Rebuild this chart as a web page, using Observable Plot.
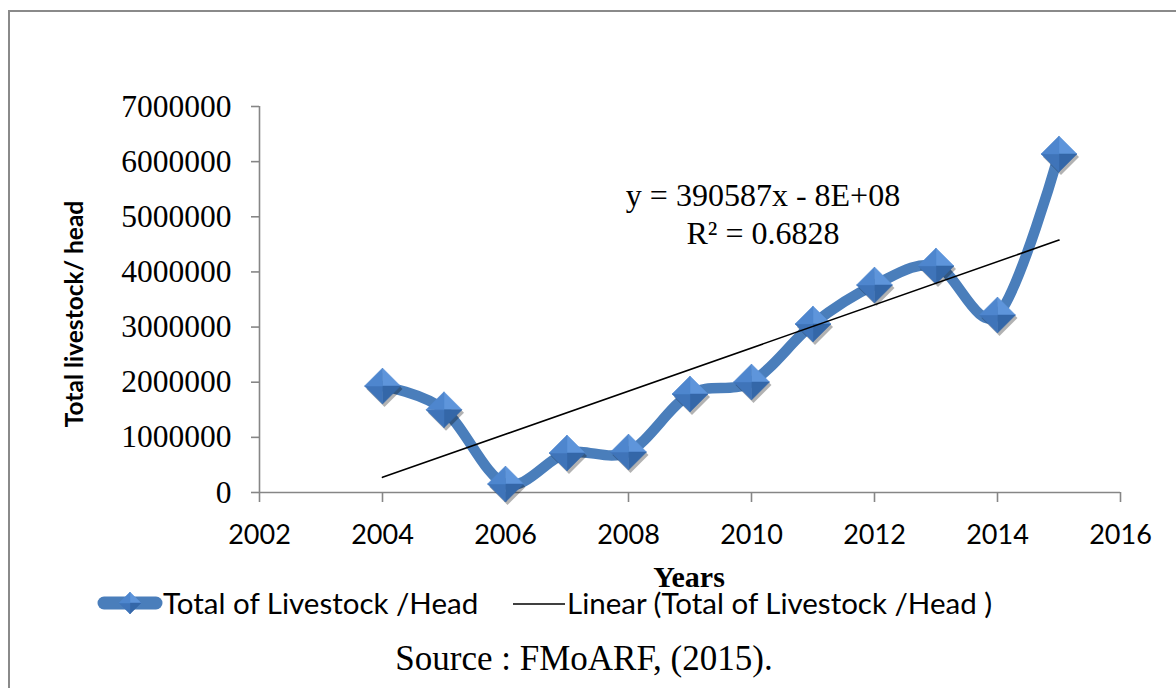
<!DOCTYPE html>
<html>
<head>
<meta charset="utf-8">
<script src="https://cdn.jsdelivr.net/npm/d3@7"></script>
<script src="https://cdn.jsdelivr.net/npm/@observablehq/plot@0.6"></script>
<style>
  html, body { margin: 0; padding: 0; background: #fff; }
  #wrap { position: relative; width: 1176px; height: 688px; overflow: hidden; background: #fff; }
  #border { position: absolute; left: 8px; top: 10px; width: 1200px; height: 720px; border-left: 2px solid #8a8a8a; border-top: 2px solid #8a8a8a; }
  #chart { position: absolute; left: 0; top: 0; }
  #overlay { position: absolute; left: 0; top: 0; pointer-events: none; }
  #chart g[aria-label^="y-axis"] { color: #868686; }
  #chart g[aria-label^="x-axis"] { color: #868686; }
  #chart g[aria-label^="y-axis"] text { font-family: "Liberation Serif", "Times New Roman", serif; font-size: 31.5px; fill: #000; }
  #chart g[aria-label^="x-axis"] text { font-family: Lato, "Open Sans", sans-serif; font-size: 27px; fill: #000; }
  #chart g[aria-label^="y-axis"] path, #chart g[aria-label^="x-axis"] path { stroke-width: 1.6; }
</style>
</head>
<body>
<div id="wrap">
  <div id="border"></div>
  <div id="chart"></div>
  <svg id="overlay" width="1176" height="688"></svg>
</div>
<script>
// ---- data ----
const years = [2004, 2005, 2006, 2007, 2008, 2009, 2010, 2011, 2012, 2013, 2014, 2015];
const livestock = [1930000, 1500000, 154000, 716000, 734000, 1786000, 2004000, 3056000, 3763000, 4108000, 3219000, 6139000];
const xTicks = [2002, 2004, 2006, 2008, 2010, 2012, 2014, 2016];
const yTicks = [0, 1000000, 2000000, 3000000, 4000000, 5000000, 6000000, 7000000];
const seriesName = "Total of Livestock /Head";
const trendName = "Linear (Total of Livestock /Head )";
const yTitle = "Total livestock/ head";
const xTitle = "Years";
const equation = ["y = 390587x - 8E+08", "R² = 0.6828"];
const sourceText = "Source : FMoARF, (2015).";

const data = years.map((y, i) => ({year: y, value: livestock[i]}));

// diamond facet symbols (pyramid look)
const facet = (i) => ({
  draw(ctx, size) {
    const d = Math.sqrt(size / Math.PI);
    const pts = [[0, -d], [d, 0], [0, d], [-d, 0]];
    const a = pts[i], b = pts[(i + 1) % 4];
    ctx.moveTo(0, 0); ctx.lineTo(a[0], a[1]); ctx.lineTo(b[0], b[1]); ctx.closePath();
  }
});
const fullDiamond = {
  draw(ctx, size) {
    const d = Math.sqrt(size / Math.PI);
    ctx.moveTo(0, -d); ctx.lineTo(d, 0); ctx.lineTo(0, d); ctx.lineTo(-d, 0); ctx.closePath();
  }
};
const facetColors = ["#5E95DB", "#3467A8", "#3F74B9", "#4E86CE"];
const R = 18;

const chart = Plot.plot({
  width: 1176,
  height: 688,
  marginLeft: 259,
  marginRight: 56,
  marginTop: 106,
  marginBottom: 196,
  style: {background: "transparent", overflow: "visible"},
  x: {domain: [2002, 2016], ticks: xTicks, tickFormat: "d", tickSize: 10, tickPadding: 22, label: null},
  y: {domain: [0, 7000000], ticks: yTicks, tickFormat: "d", tickSize: 8, tickPadding: 20, label: null},
  marks: [
    Plot.ruleX([2002], {stroke: "#868686", strokeWidth: 1.6}),
    Plot.ruleY([0], {stroke: "#868686", strokeWidth: 1.6}),
    Plot.line(data, {x: "year", y: "value", curve: "cardinal", stroke: "#000", strokeOpacity: 0.18, strokeWidth: 11, dx: 2, dy: 3, strokeLinecap: "round", strokeLinejoin: "round", ariaLabel: "lineshadow"}),
    Plot.line(data, {x: "year", y: "value", curve: "cardinal", stroke: "#4A7EBB", strokeWidth: 10.5, strokeLinecap: "round", strokeLinejoin: "round"}),
    Plot.dot(data, {x: "year", y: "value", symbol: fullDiamond, r: R, fill: "#000", fillOpacity: 0.3, dx: 2, dy: 3, ariaLabel: "dotshadow"}),
    ...facetColors.map((c, i) => Plot.dot(data, {x: "year", y: "value", symbol: facet(i), r: R, fill: c, stroke: c, strokeWidth: 0.5})),
    Plot.linearRegressionY(data, {x: "year", y: "value", ci: 0, stroke: "#000", strokeWidth: 1.6})
  ]
});
document.getElementById("chart").appendChild(chart);
d3.select(chart).selectAll('g[aria-label="dotshadow"], g[aria-label="lineshadow"]').style("filter", "blur(1.5px)");

// ---- overlay texts & legend ----
const ov = d3.select("#overlay");
const serif = '"Liberation Serif", "Times New Roman", serif';
const sans = 'Lato, "Open Sans", sans-serif';

ov.append("text").attr("transform", "translate(83,314) rotate(-90)")
  .attr("text-anchor", "middle").attr("font-family", sans).attr("font-weight", "bold")
  .attr("font-size", 24.5).text(yTitle);

ov.append("text").attr("x", 689).attr("y", 587).attr("text-anchor", "middle")
  .attr("font-family", serif).attr("font-weight", "bold").attr("font-size", 30).text(xTitle);

ov.selectAll("text.eq").data(equation).join("text").attr("class", "eq")
  .attr("x", 763).attr("y", (d, i) => 206 + i * 38).attr("text-anchor", "middle")
  .attr("font-family", serif).attr("font-size", 32).text(d => d);

// legend
ov.append("line").attr("x1", 104).attr("x2", 156).attr("y1", 603).attr("y2", 603)
  .attr("stroke", "#4A7EBB").attr("stroke-width", 13).attr("stroke-linecap", "round");
const lg = ov.append("g").attr("transform", "translate(130,603)");
const ld = 11, lpts = [[0, -ld], [ld, 0], [0, ld], [-ld, 0]];
facetColors.forEach((c, i) => {
  const a = lpts[i], b = lpts[(i + 1) % 4];
  lg.append("path").attr("d", `M0,0L${a[0]},${a[1]}L${b[0]},${b[1]}Z`).attr("fill", c).attr("stroke", c).attr("stroke-width", 0.5);
});
ov.append("text").attr("x", 163).attr("y", 614).attr("font-family", sans).attr("font-size", 29.5).text(seriesName);
ov.append("line").attr("x1", 513).attr("x2", 565).attr("y1", 604).attr("y2", 604).attr("stroke", "#000").attr("stroke-width", 1.6);
ov.append("text").attr("x", 567).attr("y", 614).attr("font-family", sans).attr("font-size", 29.5).text(trendName);

ov.append("text").attr("x", 584).attr("y", 670).attr("text-anchor", "middle")
  .attr("font-family", serif).attr("font-size", 35).text(sourceText);
</script>
</body>
</html>
